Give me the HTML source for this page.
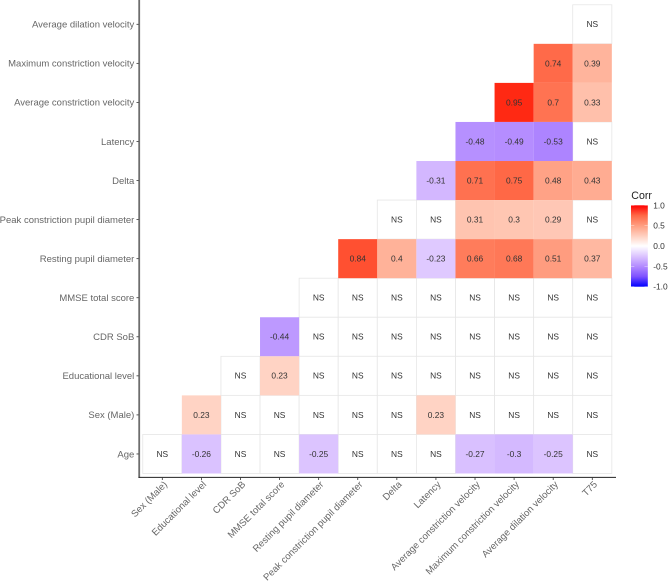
<!DOCTYPE html>
<html lang="en">
<head>
<meta charset="utf-8">
<title>Correlation heatmap</title>
<style>
html,body{margin:0;padding:0;background:#fff;width:669px;height:583px;overflow:hidden}
svg{display:block;font-family:"Liberation Sans",Arial,sans-serif;filter:blur(0.25px)}
</style>
</head>
<body>
<svg id="chart" xmlns="http://www.w3.org/2000/svg" width="669" height="583" viewBox="0 0 669 583">
  <defs>
    <linearGradient id="corr-gradient" x1="0" y1="0" x2="0" y2="1"></linearGradient>
  </defs>
</svg>
<script>
var columns = ["Sex (Male)","Educational level","CDR SoB","MMSE total score","Resting pupil diameter","Peak constriction pupil diameter","Delta","Latency","Average constriction velocity","Maximum constriction velocity","Average dilation velocity","T75"];
var rowNames = ["Average dilation velocity","Maximum constriction velocity","Average constriction velocity","Latency","Delta","Peak constriction pupil diameter","Resting pupil diameter","MMSE total score","CDR SoB","Educational level","Sex (Male)","Age"];
var N = null; // not significant
var valuesAvgDilation = [N];
var valuesMaxConstriction = [0.74,0.39];
var valuesAvgConstriction = [0.95,0.7,0.33];
var valuesLatency = [-0.48,-0.49,-0.53,N];
var valuesDelta = [-0.31,0.71,0.75,0.48,0.43];
var valuesPeak = [N,N,0.31,0.3,0.29,N];
var valuesResting = [0.84,0.4,-0.23,0.66,0.68,0.51,0.37];
var valuesMMSE = [N,N,N,N,N,N,N,N];
var valuesCDR = [-0.44,N,N,N,N,N,N,N,N];
var valuesEducation = [N,0.23,N,N,N,N,N,N,N,N];
var valuesSex = [0.23,N,N,N,N,N,0.23,N,N,N,N];
var valuesAge = [N,-0.26,N,N,-0.25,N,N,N,-0.27,-0.3,-0.25,N];
var rowValues = [valuesAvgDilation,valuesMaxConstriction,valuesAvgConstriction,valuesLatency,valuesDelta,valuesPeak,valuesResting,valuesMMSE,valuesCDR,valuesEducation,valuesSex,valuesAge];
var legendTicks = [1,0.5,0,-0.5,-1];

var svg = document.getElementById('chart');
var NS = 'http://www.w3.org/2000/svg';
var STEP_X = 39.09, STEP_Y = 39.06, X0 = 162.3, Y0 = 24.3;
function xPos(i){ return X0 + i * STEP_X; }
function yPos(j){ return Y0 + j * STEP_Y; }
var BAR_TOP = 205.3, BAR_BOTTOM = 286.7;
function legendY(v){ return BAR_TOP + (1 - v) / 2 * (BAR_BOTTOM - BAR_TOP); }

function make(tag, attrs, parent, text){
  var e = document.createElementNS(NS, tag);
  for (var k in attrs) e.setAttribute(k, attrs[k]);
  if (text !== undefined) e.textContent = text;
  (parent || svg).appendChild(e);
  return e;
}

/* Lab interpolation white -> red / white -> blue, as in ggplot scale_fill_gradient2 */
function srgbToLab(c){
  var l = c.map(function(u){ u/=255; return u<=0.04045?u/12.92:Math.pow((u+0.055)/1.055,2.4); });
  var x=(0.4124564*l[0]+0.3575761*l[1]+0.1804375*l[2])/0.95047;
  var y=(0.2126729*l[0]+0.7151522*l[1]+0.0721750*l[2]);
  var z=(0.0193339*l[0]+0.1191920*l[1]+0.9503041*l[2])/1.08883;
  var f=function(t){return t>0.008856?Math.cbrt(t):7.787*t+16/116;};
  return [116*f(y)-16,500*(f(x)-f(y)),200*(f(y)-f(z))];
}
function labToHex(L){
  var fy=(L[0]+16)/116, fx=fy+L[1]/500, fz=fy-L[2]/200;
  var g=function(t){var c=t*t*t;return c>0.008856?c:(t-16/116)/7.787;};
  var x=g(fx)*0.95047,y=g(fy),z=g(fz)*1.08883;
  var rgb=[3.2404542*x-1.5371385*y-0.4985314*z,-0.9692660*x+1.8760108*y+0.0415560*z,0.0556434*x-0.2040259*y+1.0572252*z];
  return '#'+rgb.map(function(u){
    u=Math.max(0,Math.min(1,u));
    u=u<=0.0031308?12.92*u:1.055*Math.pow(u,1/2.4)-0.055;
    var h=Math.round(u*255).toString(16);
    return h.length<2?'0'+h:h;
  }).join('');
}
var LAB_WHITE=srgbToLab([255,255,255]), LAB_RED=srgbToLab([255,0,0]), LAB_BLUE=srgbToLab([0,0,255]);
function fillFor(v){
  var end = v>=0?LAB_RED:LAB_BLUE, t=Math.abs(v);
  return labToHex([0,1,2].map(function(i){return LAB_WHITE[i]+(end[i]-LAB_WHITE[i])*t;}));
}

/* Cells: each row is right-aligned to the last column */
var cellLayer = make('g', {});


var nsCells = [], colouredCells = [];
rowValues.forEach(function(vals, j){
  vals.forEach(function(v, k){
    var cell = {col: columns.length - vals.length + k, row: j, value: v};
    (v === null ? nsCells : colouredCells).push(cell);
  });
});
nsCells.concat(colouredCells).forEach(function(c){
  var isNS = c.value === null;
  var r = make('rect', {
    x: xPos(c.col) - STEP_X/2, y: yPos(c.row) - STEP_Y/2, width: STEP_X, height: STEP_Y,
    fill: isNS ? '#ffffff' : fillFor(c.value),
    stroke: isNS ? '#e6e6e6' : 'none', 'stroke-width': 0.8
  }, cellLayer);
  
  
  var t = make('text', {
    x: xPos(c.col), y: yPos(c.row) + 2.9, 'text-anchor': 'middle', 'font-size': 8.4, fill: '#333333'
  }, cellLayer, isNS ? 'NS' : String(c.value));
  
  
});

/* Axes */
var yAxis = make('line', {x1:139.2, x2:139.2, y1:0, y2:477.9, stroke:'#6e6e6e', 'stroke-width':1.8});


var xAxis = make('line', {x1:138.5, x2:616, y1:477.4, y2:477.4, stroke:'#222222', 'stroke-width':1});



rowNames.forEach(function(name, j){
  var tick = make('line', {x1:136.5, x2:138.6, y1:yPos(j), y2:yPos(j), stroke:'#333333', 'stroke-width':0.8});
  
  
  var label = make('text', {x:134.3, y:yPos(j)+3.3, 'text-anchor':'end', 'font-size':9.5, fill:'#666666'}, svg, name);
  
  
});
columns.forEach(function(name, i){
  var tick = make('line', {x1:xPos(i), x2:xPos(i), y1:477.8, y2:480, stroke:'#333333', 'stroke-width':0.8});
  
  
  var ex = xPos(i) + 5.5, ey = 485;
  var label = make('text', {x:ex, y:ey, 'text-anchor':'end', 'font-size':9.6, fill:'#666666',
    transform:'rotate(-45 '+ex+' '+ey+')'}, svg, name);
  
  
});

/* Legend */
var grad = document.getElementById('corr-gradient');
[1,0.75,0.5,0.25,0,-0.25,-0.5,-0.75,-1].forEach(function(v){
  make('stop', {offset:(1-v)/2, 'stop-color':fillFor(v)}, grad);
});
var title = make('text', {x:631.3, y:199, 'font-size':10.6, fill:'#222222'}, svg, 'Corr');


var bar = make('rect', {x:631, y:BAR_TOP, width:16.8, height:BAR_BOTTOM-BAR_TOP, fill:'url(#corr-gradient)'});


legendTicks.forEach(function(v){
  var y = legendY(v);
  var a = make('line', {x1:631, x2:634.3, y1:y, y2:y, stroke:'#ffffff', 'stroke-width':0.5, 'stroke-opacity':0.7});
  
  
  var b = make('line', {x1:644.5, x2:647.8, y1:y, y2:y, stroke:'#ffffff', 'stroke-width':0.5, 'stroke-opacity':0.7});
  
  
  var t = make('text', {x:653.2, y:y+3, 'text-anchor':'start', 'font-size':8.4, fill:'#333333'}, svg, v.toFixed(1));
  
  
});
</script>
</body>
</html>
